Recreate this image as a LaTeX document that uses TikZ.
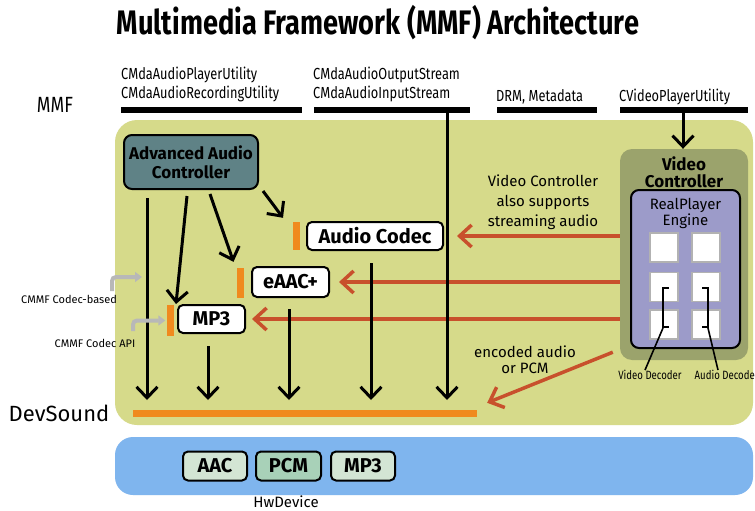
\documentclass[tikz,border=0pt]{standalone}
\usepackage{fontspec}
\setmainfont{Fira Sans}
\newfontfamily\condf{Fira Sans}[FakeStretch=0.8]
\usetikzlibrary{arrows.meta,calc}
\definecolor{mmfgreen}{HTML}{D6DA8A}
\definecolor{hwblue}{HTML}{7FB5EE}
\definecolor{devorange}{HTML}{F08A1E}
\definecolor{redarr}{HTML}{C8502C}
\definecolor{advfill}{HTML}{5F8286}
\definecolor{vcfill}{HTML}{9BA36C}
\definecolor{rpfill}{HTML}{9C9BC9}
\definecolor{hwlight}{HTML}{D3E5D4}
\definecolor{hwdark}{HTML}{A8D1B8}
\definecolor{grayarr}{HTML}{B8B8B8}
\tikzset{
  blk/.style={line width=3pt, -{Straight Barb[length=11pt,width=21pt]}},
  redline/.style={draw=redarr, line width=3.5pt, -{Straight Barb[length=12pt,width=22pt]}},
  grayline/.style={draw=grayarr, line width=4pt, rounded corners=4pt, -{Triangle[length=7pt,width=10pt]}},
  tbar/.style={fill=black, minimum height=6pt, inner sep=0pt},
  obar/.style={fill=devorange, minimum width=7pt, inner sep=0pt},
  codec/.style={draw=black, fill=white, line width=2pt, rounded corners=5pt, inner sep=0pt, font=\fontsize{20}{22}\selectfont\bfseries},
  hwbox/.style={draw=black, line width=2pt, rounded corners=5pt, inner sep=0pt, minimum height=29pt, font=\fontsize{20}{22}\selectfont\bfseries},
  sq/.style={draw=gray!60, fill=white, line width=1.5pt, minimum width=28pt, minimum height=29pt, inner sep=0pt},
  toplbl/.style={anchor=base west, inner sep=0pt, font=\condf\fontsize{16}{18}\selectfont},
  txt/.style={align=center, inner sep=0pt},
}
\begin{document}
\begin{tikzpicture}[x=1pt,y=-1pt]
\useasboundingbox (0,0) rectangle (755,511);
\fill[white] (0,0) rectangle (755,511);
% areas
\fill[mmfgreen, rounded corners=22pt] (115,120) rectangle (753,425);
\fill[hwblue, rounded corners=18pt] (115,437) rectangle (753,495);
% title
\node[inner sep=0pt] (title) at (378,23) {\condf\bfseries\fontsize{34}{36}\selectfont Multimedia Framework (MMF) Architecture};
% top labels
\node[toplbl] (l1) at (121,79) {CMdaAudioPlayerUtility};
\node[toplbl] (l2) at (121,99) {CMdaAudioRecordingUtility};
\node[toplbl] (l3) at (313,79) {CMdaAudioOutputStream};
\node[toplbl] (l4) at (313,99) {CMdaAudioInputStream};
\node[toplbl] (l5) at (496,101) {DRM, Metadata};
\node[toplbl] (l6) at (619,101) {CVideoPlayerUtility};
\node[inner sep=0pt] (mmf) at (55,105) {\condf\fontsize{22}{24}\selectfont MMF};
\node[inner sep=0pt] (devs) at (59,413) {\fontsize{22}{24}\selectfont DevSound};
\node[inner sep=0pt] (hwd) at (286,502) {\fontsize{15}{17}\selectfont HwDevice};
% bars
\node[tbar, minimum width=181pt] (b1) at (211.5,110) {};
\node[tbar, minimum width=156pt] (b2) at (392,110) {};
\node[tbar, minimum width=100pt] (b3) at (547,110) {};
\node[tbar, minimum width=128pt] (b4) at (684,110) {};
% devsound bar
\node[fill=devorange, minimum width=344pt, minimum height=7pt, inner sep=0pt] (devbar) at (305,413.5) {};
% advanced audio controller
\node[draw=black, fill=advfill, line width=2pt, rounded corners=8pt, minimum width=134pt, minimum height=54pt, inner sep=0pt, align=center, font=\fontsize{17}{19}\selectfont\bfseries] (adv) at (191,162) {Advanced Audio\\Controller};
% codecs
\node[codec, minimum width=136pt, minimum height=28pt] (ac) at (375,236) {Audio Codec};
\node[codec, minimum width=77pt, minimum height=30pt] (eaac) at (290.5,282) {eAAC+};
\node[codec, minimum width=67pt, minimum height=28pt] (mp3) at (211.5,319) {MP3};
\node[obar, minimum height=28pt] (oac) at (296,236) {};
\node[obar, minimum height=30pt] (oeaac) at (240.5,283) {};
\node[obar, minimum height=31pt] (omp3) at (170,320.5) {};
% video controller
\node[fill=vcfill, rounded corners=12pt, minimum width=128pt, minimum height=211pt, inner sep=0pt] (vc) at (684,254.5) {};
\node[txt, font=\fontsize{17}{17}\selectfont\bfseries] (vct) at (684,172) {Video\\Controller};
\node[draw=black, fill=rpfill, line width=2pt, rounded corners=8pt, minimum width=109pt, minimum height=158pt, inner sep=0pt] (rp) at (685.5,269) {};
\node[txt, font=\fontsize{15}{16}\selectfont] (rpt) at (685.5,213) {RealPlayer\\Engine};
\node[sq] (s11) at (664,247.5) {};
\node[sq] (s12) at (706,247.5) {};
\node[sq] (s21) at (664,287) {};
\node[sq] (s22) at (706,287) {};
\node[sq] (s31) at (664,324.5) {};
\node[sq] (s32) at (706,324.5) {};
\node[inner sep=0pt] (vdec) at (650,375) {\condf\fontsize{12}{14}\selectfont Video Decoder};
\node[inner sep=0pt, anchor=east] (adec) at (755,375) {\condf\fontsize{12}{14}\selectfont Audio Decode};
\draw[line width=1.6pt] (669,288) -- (663,288) -- (663,327) -- (669,327);
\draw[line width=1.6pt] (663,328) -- (vdec.north -| 645,0);
\draw[line width=1.6pt] (702,288) -- (708,288) -- (708,327) -- (702,327);
\draw[line width=1.6pt] (708,328) -- (adec.north -| 718,0);
% notes
\node[txt, font=\fontsize{15}{20}\selectfont] (note1) at (543,202) {Video Controller\\also supports\\streaming audio};
\node[txt, font=\fontsize{15}{16}\selectfont] (note2) at (525,360) {encoded audio\\or PCM};
% red arrows
\draw[redline] (vc.west |- ac.east) -- ([xshift=13pt]ac.east);
\draw[redline] (vc.west |- eaac.east) -- ([xshift=9pt]eaac.east);
\draw[redline] (vc.west |- mp3.east) -- ([xshift=6pt]mp3.east);
\draw[redline] ($(vc.south west)+(-7pt,8pt)$) -- ([xshift=10pt,yshift=7pt]devbar.north east);
% black arrows
\draw[blk] (147,198) -- (147,400);
\draw[blk] ($(adv.south)+(-4pt,-6pt)$) -- ([xshift=-1pt]mp3.north west);
\draw[blk] ($(adv.south)+(19pt,-4pt)$) -- ([xshift=-7pt,yshift=6pt]oeaac.north);
\draw[blk] ($(adv.south east)+(4pt,-1pt)$) -- ([xshift=-13pt,yshift=4pt]oac.north);
\draw[blk] ([yshift=-12pt]mp3.south -| 208,0) -- (208,400);
\draw[blk] ([yshift=-11pt]eaac.south -| 289,0) -- (289,400);
\draw[blk] ([yshift=-12pt]ac.south -| 371,0) -- (371,400);
\draw[blk] (b2.south -| 447,0) -- (447,400);
\draw[blk] (b4.south -| 683,0) -- (vc.north -| 683,0);
% gray arrows
\node[txt, font=\fontsize{11}{12}\selectfont] (cb) at (69,299) {CMMF Codec-based};
\node[txt, font=\fontsize{11}{12}\selectfont] (capi) at (95,343) {CMMF Codec API};
\draw[grayline] (112,291) |- (142,277);
\draw[grayline] (133,331) |- ([xshift=-1pt]omp3.west);
% hw boxes
\node[hwbox, fill=hwlight, minimum width=64pt] (hwaac) at (215,466) {AAC};
\node[hwbox, fill=hwdark, minimum width=65pt] (hwpcm) at (288.5,466) {PCM};
\node[hwbox, fill=hwlight, minimum width=64pt] (hwmp3) at (363,466) {MP3};
\end{tikzpicture}
\end{document}
